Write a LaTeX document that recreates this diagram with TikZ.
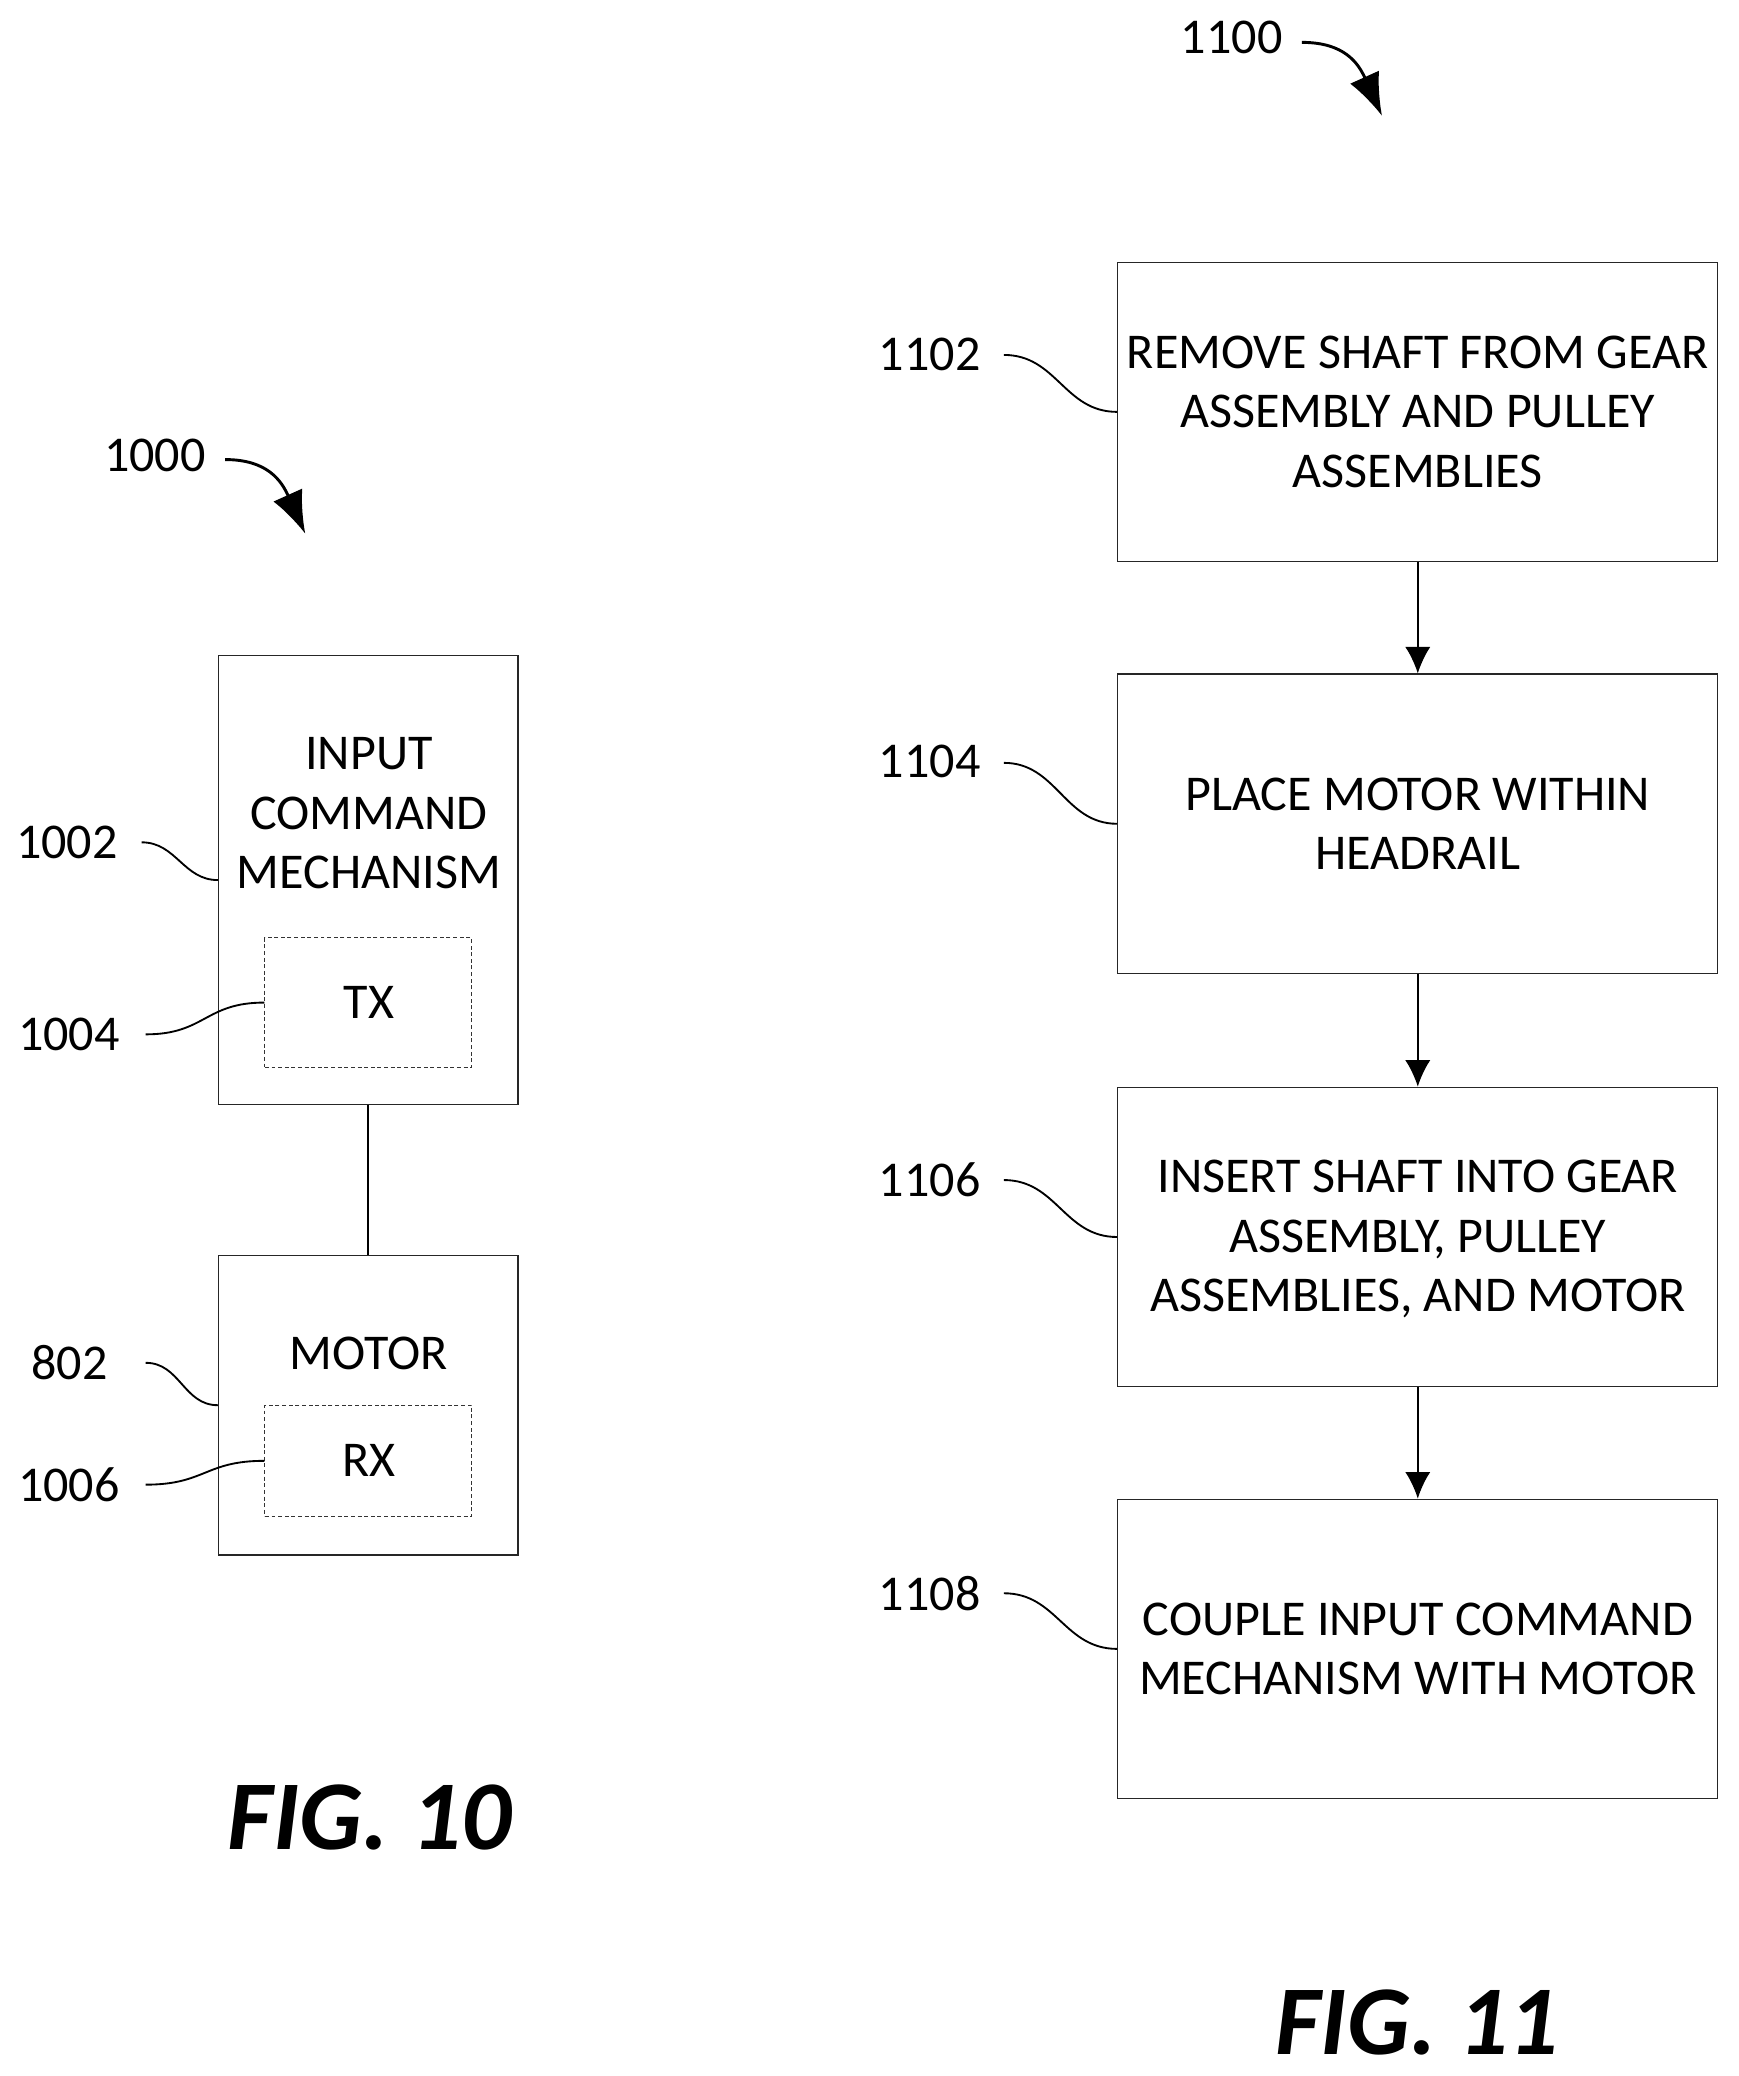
\documentclass[tikz,border=0pt]{standalone}
\usepackage{fontspec}
\setmainfont{Carlito}
\usetikzlibrary{arrows.meta}
\tikzset{
  lab/.style={inner sep=0pt,font=\fontsize{37.8}{45}\selectfont},
  boxtext/.style={inner sep=0pt,align=center,font=\fontsize{37.8}{45}\selectfont},
  figlab/.style={inner sep=0pt,font=\fontsize{74.5}{80}\selectfont\bfseries\itshape},
  box/.style={draw=black!85,line width=1pt,minimum width=#1,inner sep=0pt},
  box/.default=226pt,
  dbox/.style={draw=black!80,line width=0.8pt,dash pattern=on 3pt off 2pt,minimum width=156pt,inner sep=0pt},
  leader/.style={line width=1.4pt},
  flow/.style={line width=1.5pt,-{Latex[length=20pt,width=19pt]}},
  curly/.style={line width=2.2pt,-{Latex[length=32pt,width=24pt]}}
}
\begin{document}
\begin{tikzpicture}[x=1pt,y=-1pt]
\useasboundingbox (0,0) rectangle (1313,1567.5);
% FIG. 10 boxes
\node[box,minimum height=339pt] (input) at (278,664.5) {};
\node[dbox,minimum height=98pt] (tx) at (278,757) {};
\node[box,minimum height=226pt] (motor) at (278,1061) {};
\node[dbox,minimum height=84pt] (rx) at (278,1103) {};
\node[boxtext] (inputt) at (278.5,614) {INPUT\\COMMAND\\MECHANISM};
\node[boxtext] (txt) at (278.5,757) {TX};
\node[boxtext] (motort) at (278.5,1022) {MOTOR};
\node[boxtext] (rxt) at (278.5,1103) {RX};
\draw[line width=1.4pt] (input) -- (motor);
% FIG. 11 boxes
\node[box=453pt,minimum height=226pt] (s1) at (1070.5,311) {};
\node[box=453pt,minimum height=226pt] (s2) at (1070.5,622) {};
\node[box=453pt,minimum height=226pt] (s3) at (1070.5,934) {};
\node[box=453pt,minimum height=226pt] (s4) at (1070.5,1245) {};
\node[boxtext] (s1t) at (1070.5,311) {REMOVE SHAFT FROM GEAR\\ASSEMBLY AND PULLEY\\ASSEMBLIES};
\node[boxtext] (s2t) at (1070.5,622) {PLACE MOTOR WITHIN\\HEADRAIL};
\node[boxtext] (s3t) at (1070.5,935.5) {INSERT SHAFT INTO GEAR\\ASSEMBLY, PULLEY\\ASSEMBLIES, AND MOTOR};
\node[boxtext] (s4t) at (1070.5,1245) {COUPLE INPUT COMMAND\\MECHANISM WITH MOTOR};
\draw[flow] (s1) -- (s2);
\draw[flow] (s2) -- (s3);
\draw[flow] (s3) -- (s4);
% labels
\node[lab] (l1000) at (117,344) {1000};
\node[lab] (l1002) at (50.5,636) {1002};
\node[lab] (l1004) at (52,781) {1004};
\node[lab] (l802) at (52.5,1029) {802};
\node[lab] (l1006) at (52,1121) {1006};
\node[lab] (l1100) at (930,28) {1100};
\node[lab] (l1102) at (702,267.5) {1102};
\node[lab] (l1104) at (702,575) {1104};
\node[lab] (l1106) at (702,891) {1106};
\node[lab] (l1108) at (702,1203) {1108};
\node[figlab] (f10) at (279,1372) {FIG. 10};
\node[figlab] (f11) at (1070,1527) {FIG. 11};
% leader start points
\coordinate (c1002) at (107,636);
\coordinate (c1004) at (110,781);
\coordinate (c802) at (110,1029);
\coordinate (c1006) at (110,1121);
\coordinate (c1102) at (758,268);
\coordinate (c1104) at (758,576);
\coordinate (c1106) at (758,891);
\coordinate (c1108) at (758,1203);
\coordinate (c1000) at (170,347);
\coordinate (t1000) at (230.5,403);
\coordinate (c1100) at (983,32);
\coordinate (t1100) at (1043.5,87.5);
\draw[leader] (c1002) .. controls +(26,0) and +(-26,0) .. (input.west);
\draw[leader] (c1004) .. controls +(45,0) and +(-45,0) .. (tx.west);
\draw[leader] (c802) .. controls +(26,0) and +(-26,0) .. (motor.west);
\draw[leader] (c1006) .. controls +(45,0) and +(-45,0) .. (rx.west);
\draw[leader] (c1102) .. controls +(40,0) and +(-40,0) .. (s1.west);
\draw[leader] (c1104) .. controls +(40,0) and +(-40,0) .. (s2.west);
\draw[leader] (c1106) .. controls +(40,0) and +(-40,0) .. (s3.west);
\draw[leader] (c1108) .. controls +(40,0) and +(-40,0) .. (s4.west);
\draw[curly] (c1000) .. controls +(32,0) and +(-18,-40) .. (t1000);
\draw[curly] (c1100) .. controls +(32,0) and +(-18,-40) .. (t1100);
\end{tikzpicture}
\end{document}
